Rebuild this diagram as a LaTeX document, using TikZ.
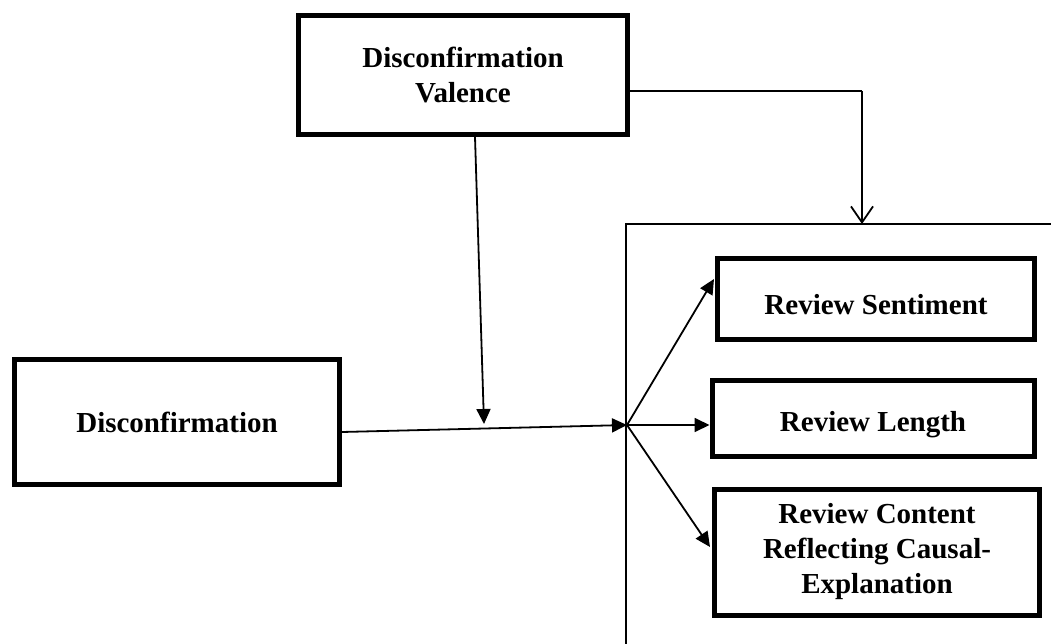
\documentclass[tikz,border=0pt]{standalone}
\usepackage{fontspec}
\setmainfont{Liberation Serif}
\usetikzlibrary{arrows.meta,calc}
\newcommand{\lowertext}[2]{\raisebox{-#1}[\height][\depth]{#2}}
\begin{document}
\begin{tikzpicture}[x=1pt,y=-1pt,
  box/.style={draw=black,line width=5pt,align=center,inner sep=0pt,
    font=\bfseries\fontsize{29}{35}\selectfont},
  conn/.style={draw=black,line width=1.8pt},
  tri/.style={conn,-{Triangle[length=15pt,width=14pt]}},
  barb/.style={conn,-{Straight Barb[length=16pt,width=22pt,line width=1.8pt]}}]
\useasboundingbox (0,0) rectangle (1051,644);
% nodes
\node[box,minimum width=329pt,minimum height=119pt] (v) at (463,75) {Disconfirmation\\Valence};
\node[box,minimum width=325pt,minimum height=125pt] (d) at (177,422) {Disconfirmation};
\node[box,minimum width=317pt,minimum height=81pt] (s) at (876,299) {\lowertext{6pt}{Review Sentiment}};
\node[box,minimum width=322pt,minimum height=76pt] (l) at (873,418) {\lowertext{7pt}{Review Length}};
\node[box,minimum width=325pt,minimum height=126pt] (c) at (877,552) {Review Content\\Reflecting Causal-\\Explanation};
% frame
\coordinate (ftr) at (1051,224);
\coordinate (ftl) at (626,224);
\coordinate (fbl) at (626,644);
\draw[conn] (ftr) -- (ftl) -- (fbl);
% coordinates
\coordinate (j) at (627,425);
\coordinate (m) at (484,424);
\coordinate (tc) at (862,91);
\coordinate (ft) at (862,224);
% connectors
\draw[tri] ($(d.east)+(0,10)$) -- (j);
\draw[tri] ($(v.south)+(12,0)$) -- (m);
\draw[conn] ($(v.east)+(0,16)$) -- (tc);
\draw[barb] (tc) -- (ft);
\draw[tri] (j) -- ($(s.west)+(-1,-20)$);
\draw[tri] (j) -- ($(l.west)+(0,7)$);
\draw[tri] (j) -- ($(c.west)+(-2,-5)$);
\end{tikzpicture}
\end{document}
